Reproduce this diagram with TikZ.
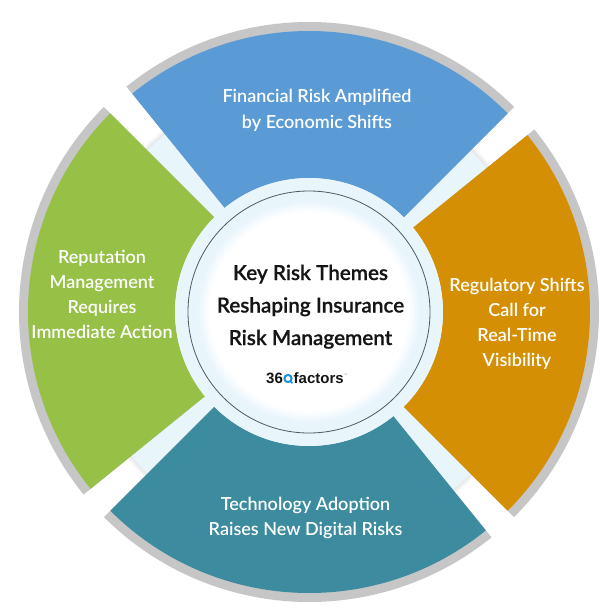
\documentclass[tikz,border=0pt]{standalone}
\usepackage{fontspec}
\IfFontExistsTF{Lato Semibold}{%
  \newfontfamily\segfont{Lato Semibold}\newfontfamily\titlefont{Lato Semibold}[FakeBold=0.6]}{%
  \newfontfamily\segfont{Lato}[FakeBold=2.2]\newfontfamily\titlefont{Lato Bold}}
\newfontfamily\logofont{Liberation Sans}
\definecolor{segblue}{HTML}{5B9BD5}
\definecolor{seggreen}{HTML}{96C046}
\definecolor{segorange}{HTML}{D48F04}
\definecolor{segteal}{HTML}{3C8B9E}
\definecolor{rimgray}{HTML}{C6C6C6}
\definecolor{palebl}{HTML}{E8F6FC}
\definecolor{ringline}{HTML}{4E5A62}
\definecolor{logoblue}{HTML}{1E90D8}
\definecolor{titleblack}{HTML}{151515}
\newcommand{\ringsector}[5]{%
  \fill[#1] (#2:#4) arc[start angle=#2, end angle=#3, radius=#4] -- (#3:#5)
    arc[start angle=#3, end angle=#2, radius=#5] -- cycle;}
\tikzset{
  seglabel/.style={text=white, align=center, anchor=base, inner sep=0pt,
    font=\segfont\fontsize{18}{25}\selectfont},
  titlelabel/.style={text=titleblack, align=center, anchor=base, inner sep=0pt,
    font=\titlefont\fontsize{20.7}{32.5}\selectfont},
  logotext/.style={text=titleblack, anchor=base west, inner sep=0pt,
    font=\logofont\bfseries\fontsize{15}{15}\selectfont}
}
\begin{document}
\begin{tikzpicture}[x=1pt,y=1pt]
\fill[white] (0,0) rectangle (614,-613);
\useasboundingbox (0,0) rectangle (614,-613);
\begin{scope}[shift={(309,-312)}]
  % pale disc with soft edge
  \foreach \r/\c in {233/3,231.5/6,230/9} {\fill[black!\c] (0,0) circle[radius=\r pt];}
  \fill[palebl] (0,0) circle[radius=228.5pt];
  % rim and segments
  \ringsector{rimgray}{45}{129}{134pt}{290pt}
  \ringsector{rimgray}{135}{219}{134pt}{290pt}
  \ringsector{rimgray}{225}{309}{134pt}{290pt}
  \ringsector{rimgray}{315}{399}{134pt}{290pt}
  \ringsector{segblue}{45}{129}{134pt}{281pt}
  \ringsector{seggreen}{135}{219}{134pt}{281pt}
  \ringsector{segteal}{225}{309}{134pt}{281pt}
  \ringsector{segorange}{315}{399}{134pt}{281pt}
  % centre
  \fill[palebl] (0,0) circle[radius=134pt];
  \draw[ringline, line width=0.8pt] (0,0) circle[radius=121pt];
  \foreach \r/\m in {112/100,110/85,108/68,106/50,104/32,102/16} {\fill[palebl!\m!white] (0,0) circle[radius=\r pt];}
  \fill[white] (0,0) circle[radius=100pt];
\end{scope}
% labels (anchor base = baseline of the last line)
\node[seglabel, font=\segfont\fontsize{18}{26}\selectfont] (fin) at (317,-128) {Financial Risk Amplified\\by Economic Shifts};
\node[seglabel] (rep) at (102,-338) {Reputation\\Management\\Requires\\Immediate Action};
\node[seglabel, font=\segfont\fontsize{18}{24.7}\selectfont] (reg) at (517,-366) {Regulatory Shifts\\Call for\\Real-Time\\Visibility};
\node[seglabel, font=\segfont\fontsize{18}{25.5}\selectfont] (tech) at (305.5,-535.5) {Technology Adoption\\Raises New Digital Risks};
\node[titlelabel] (title) at (310.5,-345) {Key Risk Themes\\Reshaping Insurance\\Risk Management};
% logo
\node[logotext] (l36) at (266,-383) {36};
\draw[logoblue, line width=2pt] (288,-378.5) circle[radius=3.6pt];
\draw[logoblue, line width=1.6pt] (290,-381) -- (292.5,-383.2);
\node[logotext] (lfac) at (293.5,-383) {factors};
\node[text=black!45, anchor=base west, inner sep=0pt, font=\logofont\fontsize{3.5}{4}\selectfont] (ltm) at (lfac.base east) [yshift=7pt] {™};
\end{tikzpicture}
\end{document}
